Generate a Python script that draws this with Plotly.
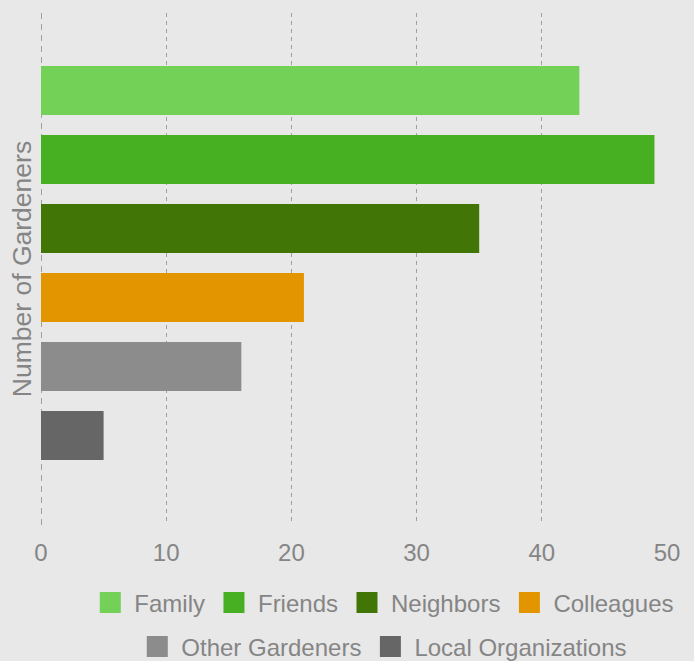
import plotly.graph_objects as go

categories = ["Family", "Friends", "Neighbors", "Colleagues", "Other Gardeners", "Local Organizations"]
values = [43, 49, 35, 21, 16, 5]
colors = ["#72d156", "#47b022", "#417505", "#e39500", "#8c8c8c", "#666666"]
legend_rows = ["legend", "legend", "legend", "legend", "legend2", "legend2"]
x_ticks = [0, 10, 20, 30, 40, 50]

TXT = "#858585"
FONT = "Liberation Sans, Arial, sans-serif"

fig = go.Figure()
for cat, val, col, lg in zip(categories, values, colors, legend_rows):
    fig.add_trace(go.Bar(
        y=[cat], x=[val], orientation="h", name=cat,
        marker=dict(color=col, line=dict(width=0)),
        width=0.71, showlegend=False,
    ))
    fig.add_trace(go.Scatter(
        x=[None], y=[None], mode="markers", name=cat, legend=lg,
        marker=dict(symbol="square", size=16, color=col,
                    line=dict(color=col, width=5)),
        showlegend=True,
    ))

leg_common = dict(
    orientation="h", xanchor="center", x=0.546,
    yref="container", yanchor="middle",
    font=dict(size=24, color=TXT, family=FONT), itemsizing="trace",
    itemwidth=38,
    bgcolor="rgba(0,0,0,0)", borderwidth=0,
)

fig.update_layout(
    width=694, height=661,
    margin=dict(l=41, r=27, t=13, b=136),
    paper_bgcolor="#e8e8e8", plot_bgcolor="#e8e8e8",
    barmode="overlay",
    font=dict(family=FONT, color=TXT, size=24),
    xaxis=dict(
        range=[0, 50], tickvals=x_ticks, showgrid=True,
        gridcolor="#a0a0a0", griddash="4px,4px", gridwidth=1,
        zeroline=False, showline=False, ticks="",
        tickfont=dict(size=24, color=TXT), ticklabelstandoff=11,
    ),
    yaxis=dict(
        categoryorder="array", categoryarray=categories,
        range=[6.297, -1.123], showticklabels=False, showgrid=False,
        zeroline=False, ticks="",
        title=dict(text="Number of Gardeners", font=dict(size=26.5, color=TXT), standoff=0),
    ),
    legend=dict(y=1 - 603 / 661, **leg_common),
    legend2=dict(y=1 - 647 / 661, **leg_common),
)
fig.add_shape(type="line", xref="x", yref="paper", x0=0, x1=0, y0=0, y1=1,
              line=dict(color="#a0a0a0", width=2, dash="6px,5px"), layer="below")

fig.write_html("out.html")
